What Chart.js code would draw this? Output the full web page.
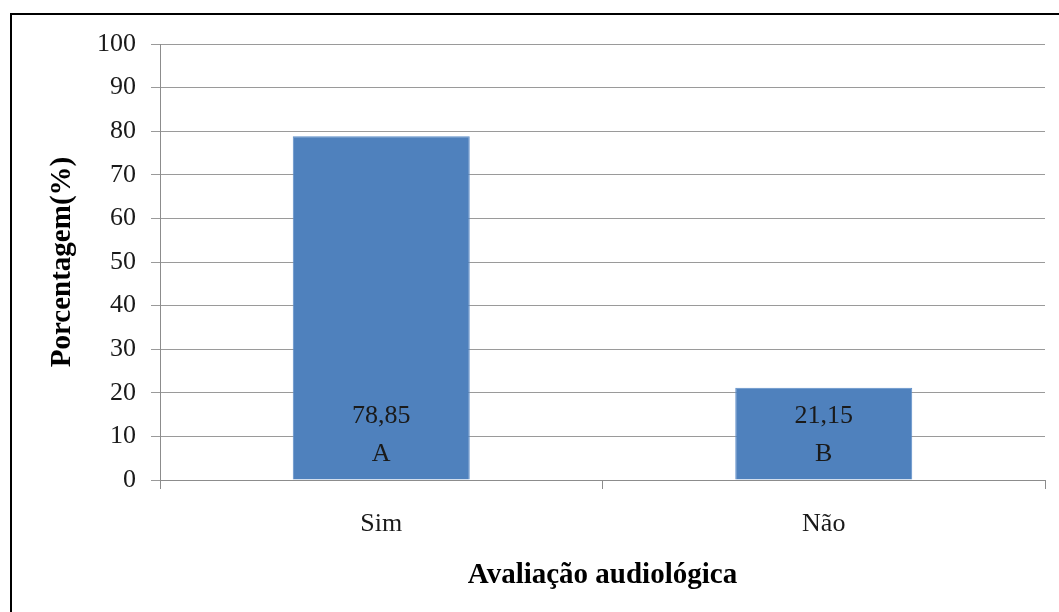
<!DOCTYPE html>
<html>
<head>
<meta charset="utf-8">
<script src="https://cdn.jsdelivr.net/npm/chart.js@4.4.0/dist/chart.umd.min.js"></script>
<style>
  html, body { margin: 0; padding: 0; background: #fff; }
  #wrap { position: relative; width: 1059px; height: 612px; }
</style>
</head>
<body>
<div id="wrap"><canvas id="grafico"></canvas></div>
<script>
const categorias = ['Sim', 'Não'];
const valores = [78.85, 21.15];
const letras = ['A', 'B'];
const yTicks = [0, 10, 20, 30, 40, 50, 60, 70, 80, 90, 100];

const fonte = 'Liberation Serif, Times New Roman, serif';

// moldura + rótulos dentro das barras
const extras = {
    id: 'extras',
    afterDatasetsDraw(chart) {
        const ctx = chart.ctx;
        const meta = chart.getDatasetMeta(0);
        ctx.save();
        ctx.fillStyle = '#1a1a1a';
        ctx.font = '26px ' + fonte;
        ctx.textAlign = 'center';
        ctx.textBaseline = 'middle';
        meta.data.forEach((bar, i) => {
            const txt = valores[i].toFixed(2).replace('.', ',');
            ctx.fillText(txt, bar.x, bar.base - 63);
            ctx.fillText(letras[i], bar.x, bar.base - 25);
        });
        ctx.restore();
    },
    afterDraw(chart) {
        const ctx = chart.ctx;
        ctx.save();
        ctx.strokeStyle = '#000';
        ctx.lineWidth = 2;
        ctx.strokeRect(11, 14, 1100, 700);
        ctx.restore();
    }
};

const ctx = document.getElementById('grafico').getContext('2d');
new Chart(ctx, {
    type: 'bar',
    data: {
        labels: categorias,
        datasets: [{
            data: valores,
            backgroundColor: '#4f81bd',
            borderColor: '#5d8ec9',
            borderWidth: 1,
            categoryPercentage: 1,
            barPercentage: 0.4
        }]
    },
    options: {
        responsive: true,
        maintainAspectRatio: false,
        animation: false,
        layout: { padding: { left: 0, right: 14, top: 44, bottom: 0 } },
        plugins: {
            legend: { display: false },
            tooltip: { enabled: false }
        },
        scales: {
            x: {
                afterFit(scale) { scale.height = 132; },
                grid: {
                    display: true,
                    offset: true,
                    drawOnChartArea: false,
                    tickLength: 9,
                    color: '#8c8c8c'
                },
                border: { color: '#8c8c8c' },
                ticks: {
                    color: '#1a1a1a',
                    padding: 20,
                    font: { family: fonte, size: 26 }
                },
                title: {
                    display: true,
                    text: 'Avaliação audiológica',
                    color: '#000',
                    padding: { top: 19, bottom: 19 },
                    font: { family: fonte, size: 29, weight: 'bold' }
                }
            },
            y: {
                min: 0,
                max: 100,
                afterFit(scale) { scale.width = 160; },
                afterBuildTicks(scale) { scale.ticks = yTicks.map(v => ({ value: v })); },
                grid: {
                    color: '#9a9a9a',
                    tickLength: 9
                },
                border: { color: '#8c8c8c' },
                ticks: {
                    color: '#1a1a1a',
                    padding: 15,
                    font: { family: fonte, size: 26 }
                },
                title: {
                    display: true,
                    text: 'Porcentagem(%)',
                    color: '#000',
                    padding: { top: 45, bottom: 45 },
                    font: { family: fonte, size: 29, weight: 'bold' }
                }
            }
        }
    },
    plugins: [extras]
});
</script>
</body>
</html>
